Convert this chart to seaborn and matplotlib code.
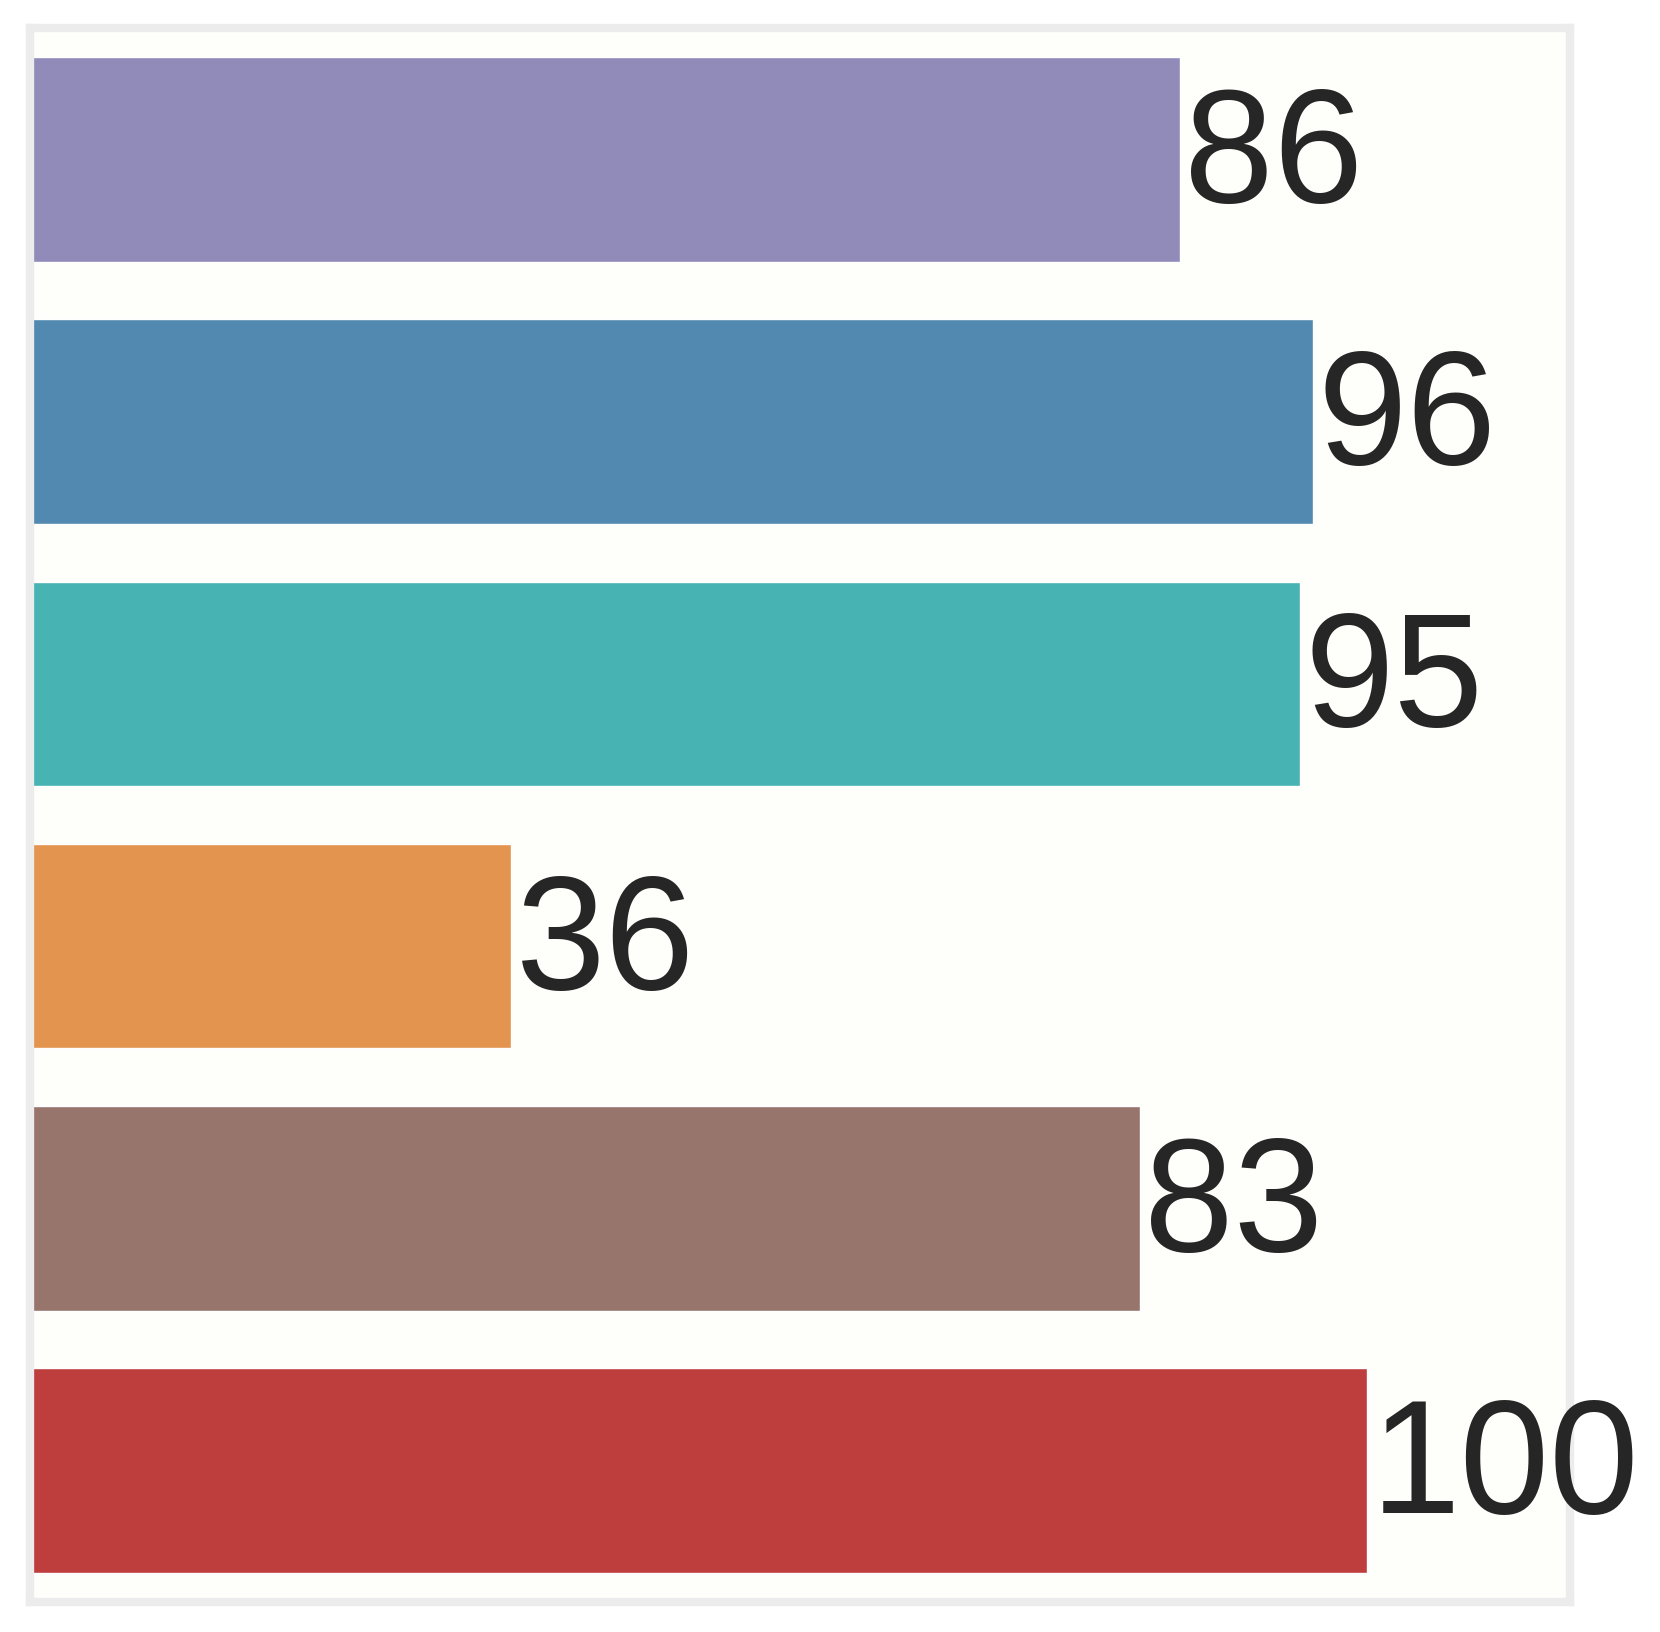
import pandas as pd
import matplotlib
matplotlib.use("Agg")
import matplotlib.pyplot as plt
import seaborn as sns

# ── data ─────────────────────────────────────────────
categories = ["A", "B", "C", "D", "E", "F"]
values = [86, 96, 95, 36, 83, 100]
colors = ["#918bb9", "#5289b0", "#47b3b2", "#e3944f", "#97756d", "#be3e3e"]

df = pd.DataFrame({"category": categories, "value": values})

# ── style ────────────────────────────────────────────
sns.set_style("white")
plt.rcParams['font.family'] = ['Liberation Sans', 'DejaVu Sans']

fig = plt.figure(figsize=(16.6, 16.33), dpi=100)
ax = fig.add_axes([0.0181, 0.0184, 0.9277, 0.9638])
ax.set_facecolor("#fefefa")

sns.barplot(data=df, x="value", y="category", hue="category",
            palette=colors, orient="h", width=0.78, legend=False,
            saturation=1, ax=ax)

# value labels just past the bar ends
for container in ax.containers:
    ax.bar_label(container, fmt="%d", padding=3, fontsize=116,
                 color="#262626")

ax.set_xlim(0, 115.2)
ax.set_ylim(5.5, -0.5)
ax.set_xticks([])
ax.set_yticks([])
ax.set_xlabel("")
ax.set_ylabel("")
for sp in ax.spines.values():
    sp.set_visible(True)
    sp.set_color("#ececec")
    sp.set_linewidth(6)

plt.savefig("out.png", dpi=100)
